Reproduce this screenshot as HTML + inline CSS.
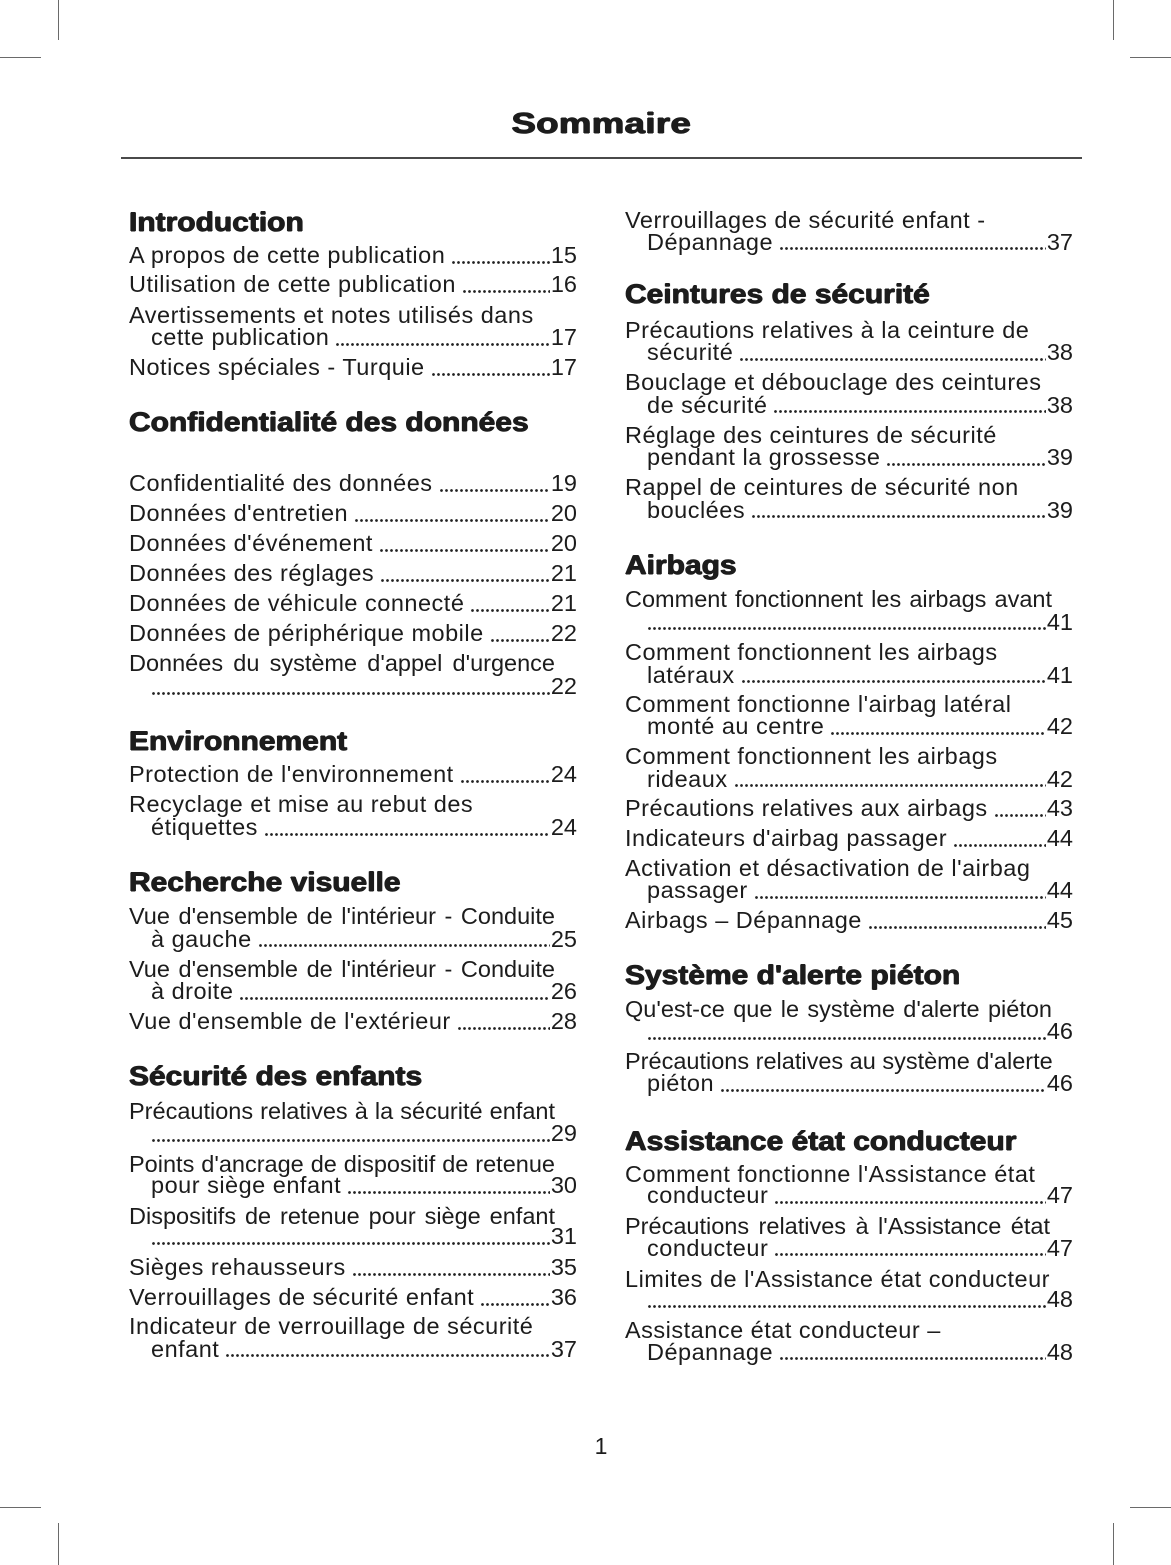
<!DOCTYPE html>
<html>
<head>
<meta charset="utf-8">
<style>
  html, body { margin:0; padding:0; background:#fff; }
  body { width:1171px; height:1565px; position:relative; overflow:hidden;
         font-family:"Liberation Sans", "DejaVu Sans", sans-serif; color:#1c1c1c; }
  .cm { position:absolute; background:#6a6a6a; }
  .title { position:absolute; left:0; width:1202px; top:107px; height:34px; line-height:34px;
           text-align:center; font-size:29px; font-weight:bold; letter-spacing:0.3px; }
  .title span { display:inline-block; transform:scaleX(1.26);
           text-shadow:0.6px 0 0 #1c1c1c, -0.6px 0 0 #1c1c1c, 0 0.5px 0 #1c1c1c, 0 -0.5px 0 #1c1c1c; }
  .rule { position:absolute; left:121px; width:961px; top:157px; height:2px; background:#4a4a4a; }
  .h { position:absolute; height:30px; line-height:30px; font-size:27px; font-weight:bold;
       white-space:nowrap; transform:scaleX(1.11); transform-origin:left center; color:#1c1c1c;
       text-shadow:0.55px 0 0 #1c1c1c, -0.55px 0 0 #1c1c1c, 0 0.45px 0 #1c1c1c, 0 -0.45px 0 #1c1c1c; }
  .l { position:absolute; height:26px; line-height:26px; font-size:23.5px; letter-spacing:0.5px;
       white-space:nowrap; display:flex; }
  .L { left:129px; width:448px; }
  .Li { left:151px; width:426px; }
  .R { left:625px; width:448px; }
  .Ri { left:647px; width:426px; }
  .j { display:block; text-align:justify; text-align-last:justify; letter-spacing:0; }
  .L.j { width:426px; }
  .R.j { width:427px; }
  .d { flex:1; margin:0 1px 0 6px;
       background-image:radial-gradient(circle at center, #222 1.15px, rgba(34,34,34,0) 1.6px);
       background-size:5px 5px; background-repeat:repeat-x; background-position:0 17.5px; }
  .d0 { margin-left:0; }
  .n { letter-spacing:0; }
  .pg { position:absolute; left:0; width:1202px; top:1433px; height:26px; line-height:26px;
        text-align:center; font-size:23px; }
</style>
</head>
<body>
<!-- crop marks -->
<div class="cm" style="left:58px;top:0;width:1px;height:40px"></div>
<div class="cm" style="left:0;top:57px;width:41px;height:1px"></div>
<div class="cm" style="left:1113px;top:0;width:1px;height:40px"></div>
<div class="cm" style="left:1130px;top:57px;width:41px;height:1px"></div>
<div class="cm" style="left:0;top:1507px;width:41px;height:1px"></div>
<div class="cm" style="left:58px;top:1523px;width:1px;height:42px"></div>
<div class="cm" style="left:1130px;top:1507px;width:41px;height:1px"></div>
<div class="cm" style="left:1113px;top:1523px;width:1px;height:42px"></div>

<div class="title"><span>Sommaire</span></div>
<div class="rule"></div>

<!-- LEFT COLUMN -->
<div class="h" style="left:129px;top:206.5px">Introduction</div>
<div class="l L" style="top:242px"><span>A propos de cette publication</span><span class="d"></span><span class="n">15</span></div>
<div class="l L" style="top:271px"><span>Utilisation de cette publication</span><span class="d"></span><span class="n">16</span></div>
<div class="l L" style="top:302px"><span>Avertissements et notes utilisés dans</span></div>
<div class="l Li" style="top:324px"><span>cette publication</span><span class="d"></span><span class="n">17</span></div>
<div class="l L" style="top:354px"><span>Notices spéciales - Turquie</span><span class="d"></span><span class="n">17</span></div>

<div class="h" style="left:129px;top:407px">Confidentialité des données</div>
<div class="l L" style="top:470px"><span>Confidentialité des données</span><span class="d"></span><span class="n">19</span></div>
<div class="l L" style="top:500px"><span>Données d'entretien</span><span class="d"></span><span class="n">20</span></div>
<div class="l L" style="top:530px"><span>Données d'événement</span><span class="d"></span><span class="n">20</span></div>
<div class="l L" style="top:560px"><span>Données des réglages</span><span class="d"></span><span class="n">21</span></div>
<div class="l L" style="top:590px"><span>Données de véhicule connecté</span><span class="d"></span><span class="n">21</span></div>
<div class="l L" style="top:620px"><span>Données de périphérique mobile</span><span class="d"></span><span class="n">22</span></div>
<div class="l L j" style="top:650px">Données du système d'appel d'urgence</div>
<div class="l Li" style="top:673px"><span class="d d0"></span><span class="n">22</span></div>

<div class="h" style="left:129px;top:726px">Environnement</div>
<div class="l L" style="top:761px"><span>Protection de l'environnement</span><span class="d"></span><span class="n">24</span></div>
<div class="l L" style="top:791px"><span>Recyclage et mise au rebut des</span></div>
<div class="l Li" style="top:814px"><span>étiquettes</span><span class="d"></span><span class="n">24</span></div>

<div class="h" style="left:129px;top:867px">Recherche visuelle</div>
<div class="l L j" style="top:903px">Vue d'ensemble de l'intérieur - Conduite</div>
<div class="l Li" style="top:925.5px"><span>à gauche</span><span class="d"></span><span class="n">25</span></div>
<div class="l L j" style="top:955.5px">Vue d'ensemble de l'intérieur - Conduite</div>
<div class="l Li" style="top:978px"><span>à droite</span><span class="d"></span><span class="n">26</span></div>
<div class="l L" style="top:1008px"><span>Vue d'ensemble de l'extérieur</span><span class="d"></span><span class="n">28</span></div>

<div class="h" style="left:129px;top:1061px">Sécurité des enfants</div>
<div class="l L j" style="top:1098px">Précautions relatives à la sécurité enfant</div>
<div class="l Li" style="top:1120px"><span class="d d0"></span><span class="n">29</span></div>
<div class="l L j" style="top:1151px">Points d'ancrage de dispositif de retenue</div>
<div class="l Li" style="top:1172px"><span>pour siège enfant</span><span class="d"></span><span class="n">30</span></div>
<div class="l L j" style="top:1203px">Dispositifs de retenue pour siège enfant</div>
<div class="l Li" style="top:1223px"><span class="d d0"></span><span class="n">31</span></div>
<div class="l L" style="top:1254px"><span>Sièges rehausseurs</span><span class="d"></span><span class="n">35</span></div>
<div class="l L" style="top:1284px"><span>Verrouillages de sécurité enfant</span><span class="d"></span><span class="n">36</span></div>
<div class="l L" style="top:1313px"><span>Indicateur de verrouillage de sécurité</span></div>
<div class="l Li" style="top:1335.5px"><span>enfant</span><span class="d"></span><span class="n">37</span></div>

<!-- RIGHT COLUMN -->
<div class="l R" style="top:207px"><span>Verrouillages de sécurité enfant -</span></div>
<div class="l Ri" style="top:228.5px"><span>Dépannage</span><span class="d"></span><span class="n">37</span></div>

<div class="h" style="left:625px;top:279px">Ceintures de sécurité</div>
<div class="l R" style="top:317px"><span>Précautions relatives à la ceinture de</span></div>
<div class="l Ri" style="top:339px"><span>sécurité</span><span class="d"></span><span class="n">38</span></div>
<div class="l R" style="top:369px"><span>Bouclage et débouclage des ceintures</span></div>
<div class="l Ri" style="top:391.5px"><span>de sécurité</span><span class="d"></span><span class="n">38</span></div>
<div class="l R" style="top:421.5px"><span>Réglage des ceintures de sécurité</span></div>
<div class="l Ri" style="top:444px"><span>pendant la grossesse</span><span class="d"></span><span class="n">39</span></div>
<div class="l R" style="top:474px"><span>Rappel de ceintures de sécurité non</span></div>
<div class="l Ri" style="top:496.5px"><span>bouclées</span><span class="d"></span><span class="n">39</span></div>

<div class="h" style="left:625px;top:550px">Airbags</div>
<div class="l R j" style="top:586px">Comment fonctionnent les airbags avant</div>
<div class="l Ri" style="top:608.5px"><span class="d d0"></span><span class="n">41</span></div>
<div class="l R" style="top:639px"><span>Comment fonctionnent les airbags</span></div>
<div class="l Ri" style="top:661.5px"><span>latéraux</span><span class="d"></span><span class="n">41</span></div>
<div class="l R" style="top:691px"><span>Comment fonctionne l'airbag latéral</span></div>
<div class="l Ri" style="top:713px"><span>monté au centre</span><span class="d"></span><span class="n">42</span></div>
<div class="l R" style="top:743px"><span>Comment fonctionnent les airbags</span></div>
<div class="l Ri" style="top:765.5px"><span>rideaux</span><span class="d"></span><span class="n">42</span></div>
<div class="l R" style="top:795px"><span>Précautions relatives aux airbags</span><span class="d"></span><span class="n">43</span></div>
<div class="l R" style="top:825px"><span>Indicateurs d'airbag passager</span><span class="d"></span><span class="n">44</span></div>
<div class="l R" style="top:855px"><span>Activation et désactivation de l'airbag</span></div>
<div class="l Ri" style="top:877px"><span>passager</span><span class="d"></span><span class="n">44</span></div>
<div class="l R" style="top:907px"><span>Airbags – Dépannage</span><span class="d"></span><span class="n">45</span></div>

<div class="h" style="left:625px;top:960px">Système d'alerte piéton</div>
<div class="l R j" style="top:996px">Qu'est-ce que le système d'alerte piéton</div>
<div class="l Ri" style="top:1018px"><span class="d d0"></span><span class="n">46</span></div>
<div class="l R j" style="top:1048px">Précautions relatives au système d'alerte</div>
<div class="l Ri" style="top:1070px"><span>piéton</span><span class="d"></span><span class="n">46</span></div>

<div class="h" style="left:625px;top:1126px">Assistance état conducteur</div>
<div class="l R" style="top:1160.5px"><span>Comment fonctionne l'Assistance état</span></div>
<div class="l Ri" style="top:1182px"><span>conducteur</span><span class="d"></span><span class="n">47</span></div>
<div class="l R j" style="top:1213px;width:425px">Précautions relatives à l'Assistance état</div>
<div class="l Ri" style="top:1234.5px"><span>conducteur</span><span class="d"></span><span class="n">47</span></div>
<div class="l R" style="top:1266px"><span>Limites de l'Assistance état conducteur</span></div>
<div class="l Ri" style="top:1286px"><span class="d d0"></span><span class="n">48</span></div>
<div class="l R" style="top:1317px"><span>Assistance état conducteur –</span></div>
<div class="l Ri" style="top:1338.5px"><span>Dépannage</span><span class="d"></span><span class="n">48</span></div>

<div class="pg">1</div>
</body>
</html>
